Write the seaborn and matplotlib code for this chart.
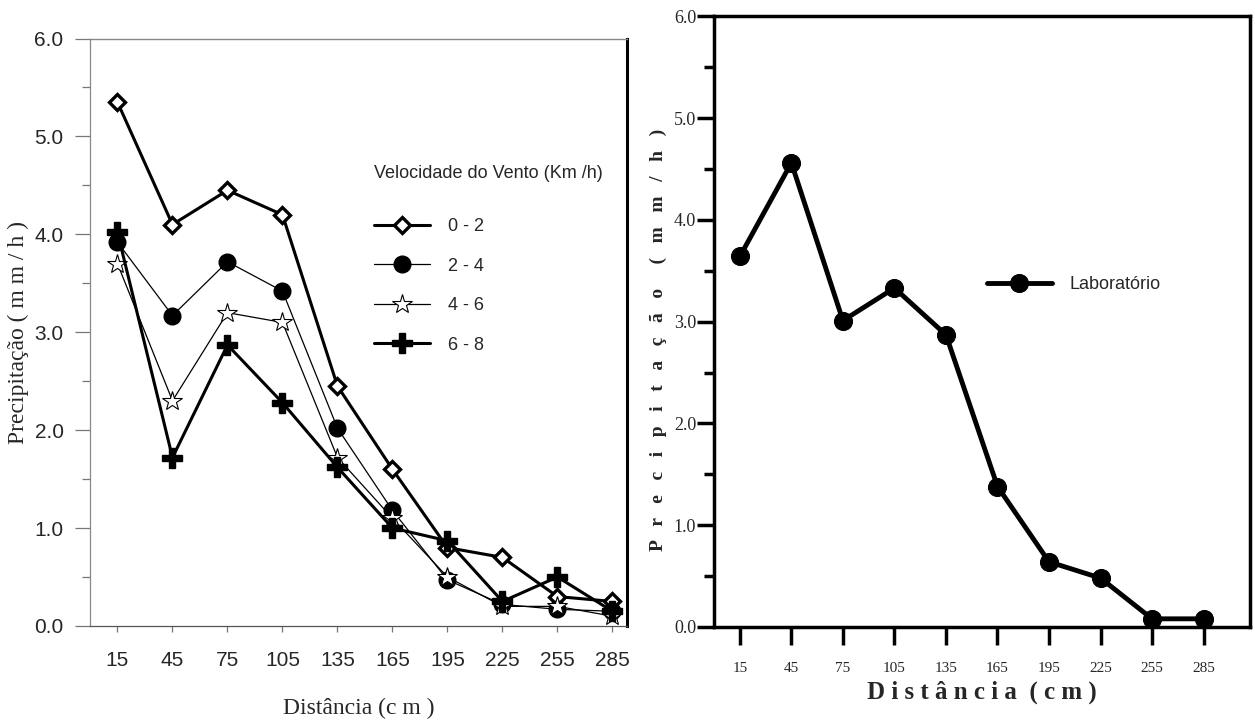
import numpy as np
import pandas as pd
import matplotlib
matplotlib.use("Agg")
import matplotlib.pyplot as plt
from matplotlib.ticker import MultipleLocator
import seaborn as sns

# --- data ---
distancia = [15, 45, 75, 105, 135, 165, 195, 225, 255, 285]
vel_0_2 = [5.35, 4.10, 4.45, 4.20, 2.45, 1.60, 0.80, 0.70, 0.30, 0.25]
vel_2_4 = [3.92, 3.17, 3.72, 3.42, 2.02, 1.18, 0.47, 0.22, 0.17, 0.15]
vel_4_6 = [3.70, 2.30, 3.20, 3.10, 1.72, 1.10, 0.50, 0.20, 0.20, 0.10]
vel_6_8 = [4.02, 1.72, 2.87, 2.28, 1.62, 1.00, 0.87, 0.25, 0.50, 0.15]
laboratorio = [3.64, 4.56, 3.01, 3.33, 2.87, 1.38, 0.64, 0.48, 0.08, 0.08]
series_labels = ["0 - 2", "2 - 4", "4 - 6", "6 - 8"]

sns.set_theme(style="white")
plt.rcParams['font.family'] = ['Liberation Sans', 'DejaVu Sans']
SERIF = ["Liberation Serif", "DejaVu Serif"]

fig = plt.figure(figsize=(12.55, 7.27), dpi=100)
ax1 = fig.add_axes([0.0717, 0.139, 0.428, 0.808])
ax2 = fig.add_axes([0.569, 0.1376, 0.427, 0.840])

# --- left panel: field data per wind speed ---
styles = [
    dict(marker="D", markersize=8, markerfacecolor="white", markeredgecolor="black",
         markeredgewidth=2.4, linewidth=2.2),
    dict(marker="o", markersize=12, markerfacecolor="black", markeredgecolor="black",
         markeredgewidth=1, linewidth=0.9),
    dict(marker="*", markersize=15, markerfacecolor="white", markeredgecolor="black",
         markeredgewidth=0.8, linewidth=0.9),
    dict(marker="P", markersize=14, markerfacecolor="black", markeredgecolor="black",
         markeredgewidth=1, linewidth=2.2),
]
for vals, lab, st in zip([vel_0_2, vel_2_4, vel_4_6, vel_6_8], series_labels, styles):
    sns.lineplot(x=distancia, y=vals, ax=ax1, color="black", label=lab, **st)

ax1.set_xlim(0, 293)
ax1.set_ylim(0, 6.0)
ax1.set_xticks(distancia)
ax1.set_xticklabels([str(d) for d in distancia], fontsize=15)
ax1.yaxis.set_major_locator(MultipleLocator(1.0))
ax1.yaxis.set_minor_locator(MultipleLocator(0.5))
ax1.set_yticklabels([f"{v:.1f}" for v in ax1.get_yticks()], fontsize=15)
ax1.tick_params(axis="both", which="both", direction="out", left=True, bottom=True,
                color="#777777", width=0.9)
ax1.tick_params(axis="y", which="major", length=11, pad=8)
ax1.tick_params(axis="y", which="minor", length=6)
ax1.tick_params(axis="x", length=4, pad=14)
ax1.spines["top"].set_color("#888888")
ax1.spines["top"].set_linewidth(1.0)
ax1.spines["left"].set_color("#888888")
ax1.spines["left"].set_linewidth(0.9)
ax1.spines["bottom"].set_color("#555555")
ax1.spines["bottom"].set_linewidth(0.9)
ax1.spines["right"].set_color("black")
ax1.spines["right"].set_linewidth(2.2)
ax1.set_xlabel("Distância (c m )", family=SERIF, fontsize=17, labelpad=20)
ax1.set_ylabel("Precipitação ( m m / h )", family=SERIF, fontsize=17, labelpad=4)
leg1 = ax1.legend(loc="upper left", bbox_to_anchor=(0.515, 0.797), frameon=False,
                  title="Velocidade do Vento (Km /h)", fontsize=13, title_fontsize=13,
                  handlelength=3.1, labelspacing=1.25, handletextpad=1.0, alignment="left",
                  borderaxespad=0)
leg1._legend_box.sep = 26

# --- right panel: laboratory ---
sns.lineplot(x=distancia, y=laboratorio, ax=ax2, color="black", marker="o",
             markersize=13, markeredgecolor="black", linewidth=3.5, label="Laboratório")
ax2.set_xlim(0, 312)
ax2.set_ylim(0, 6.0)
ax2.set_xticks(distancia)
ax2.set_xticklabels([str(d) for d in distancia], family=SERIF, fontsize=11)
ax2.yaxis.set_major_locator(MultipleLocator(1.0))
ax2.yaxis.set_minor_locator(MultipleLocator(0.5))
ax2.set_yticklabels([f"{v:.1f}" for v in ax2.get_yticks()], family=SERIF, fontsize=13)
ax2.tick_params(axis="both", which="both", direction="out", left=True, bottom=True,
                color="black", width=2.5)
ax2.tick_params(axis="y", which="major", length=12, pad=1)
ax2.tick_params(axis="y", which="minor", length=7)
ax2.tick_params(axis="x", length=13, pad=12)
for sp in ax2.spines.values():
    sp.set_color("black")
    sp.set_linewidth(2.5)
ax2.set_xlabel("D i s t â n c i a  ( c m )", family=SERIF, fontsize=18,
               fontweight="bold", labelpad=4)
ax2.set_ylabel("P   r   e   c   i   p   i   t   a   ç   ã   o     (   m   m   /   h   )",
               family=SERIF, fontsize=14, fontweight="bold")
ax2.yaxis.set_label_coords(-0.088, 0.47)
ax2.legend(loc="center left", bbox_to_anchor=(0.495, 0.56), frameon=False, fontsize=13,
           handlelength=3.6, handletextpad=1.0, borderaxespad=0)

fig.savefig("out.png", dpi=100)
